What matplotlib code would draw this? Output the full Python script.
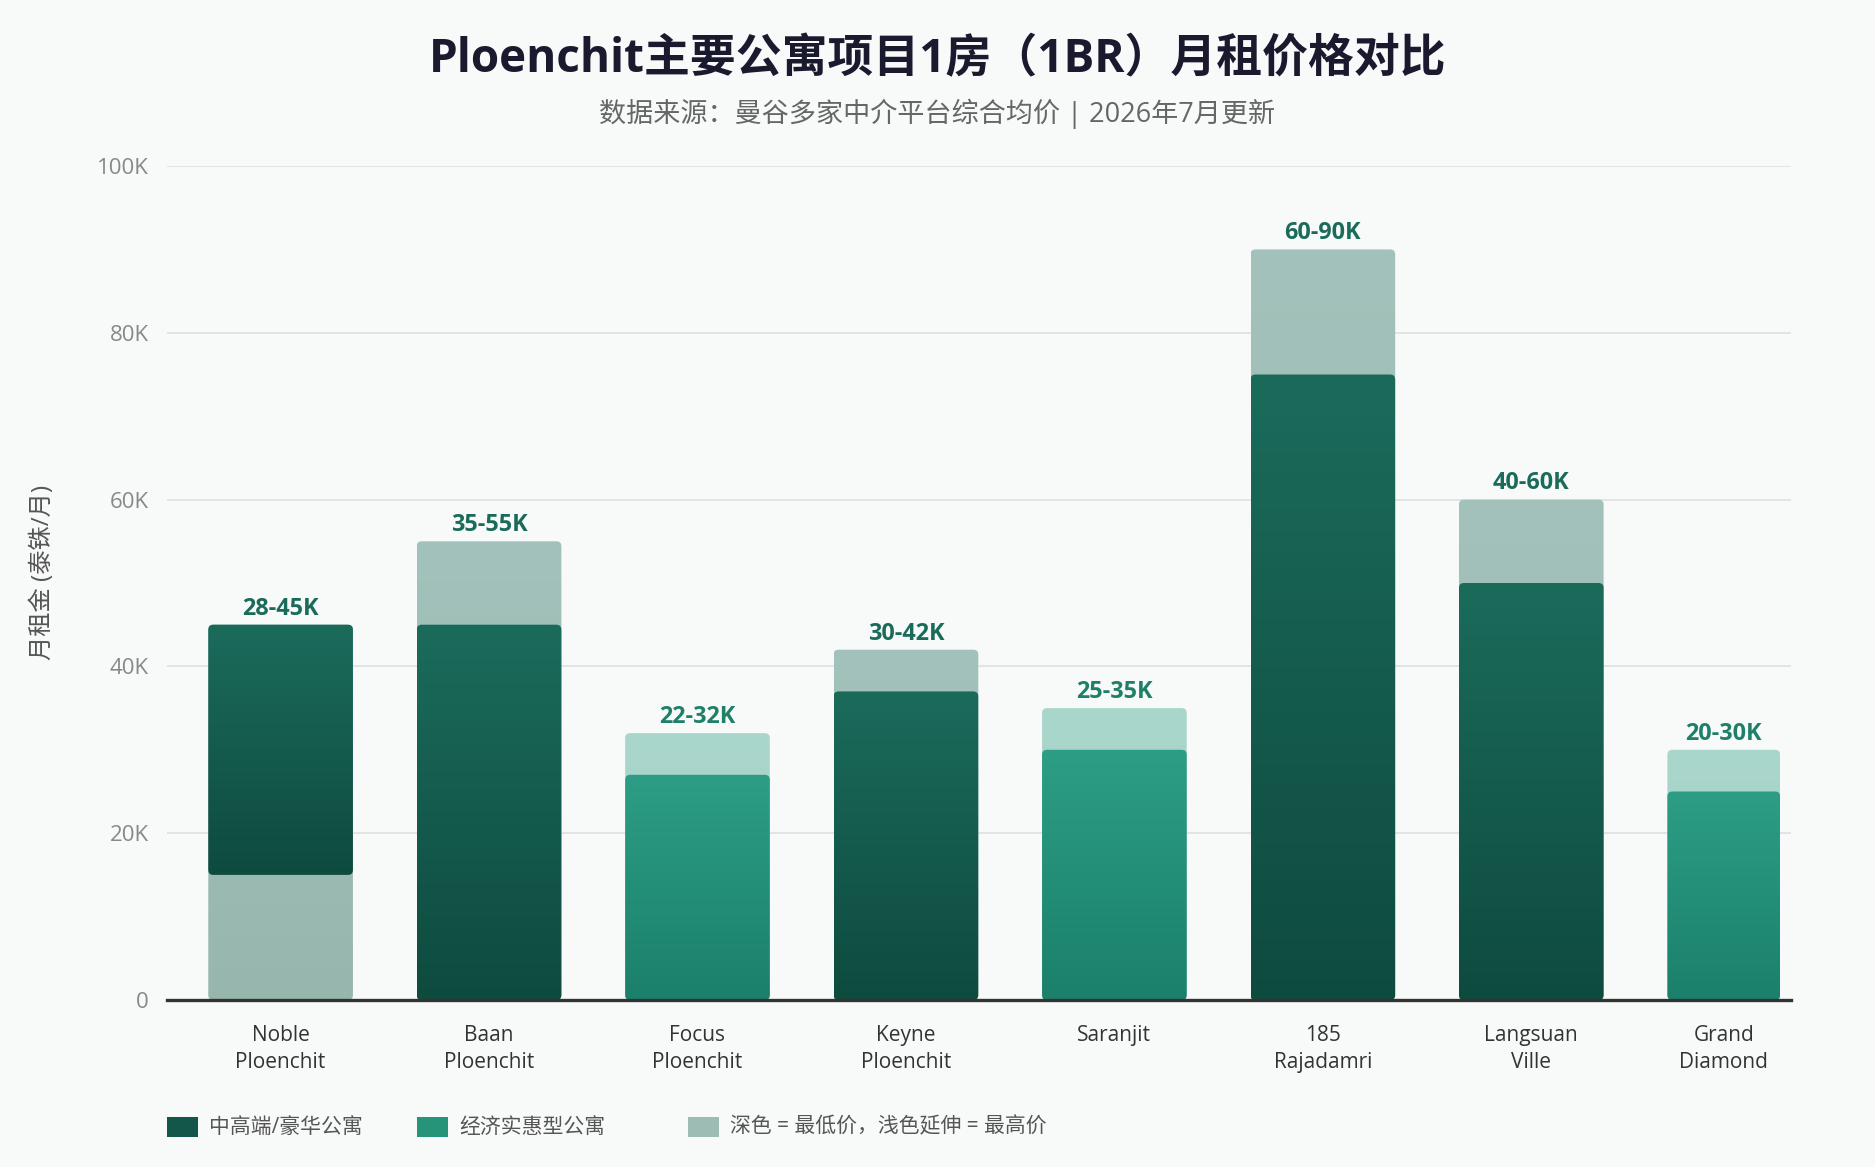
import numpy as np
import matplotlib
matplotlib.use("Agg")
import matplotlib.pyplot as plt
from matplotlib.patches import FancyBboxPatch, Rectangle
from matplotlib.colors import LinearSegmentedColormap

plt.rcParams['font.family'] = ['Open Sans', 'Noto Sans CJK SC', 'DejaVu Sans']

# data (thousand THB / month)
projects = ["Noble\nPloenchit", "Baan\nPloenchit", "Focus\nPloenchit", "Keyne\nPloenchit",
            "Saranjit", "185\nRajadamri", "Langsuan\nVille", "Grand\nDiamond"]
range_labels = ["28-45K", "35-55K", "22-32K", "30-42K", "25-35K", "60-90K", "40-60K", "20-30K"]
segment = ["premium", "premium", "economy", "premium", "economy", "premium", "premium", "economy"]
dark_low = [15, 0, 0, 0, 0, 0, 0, 0]
dark_high = [45, 45, 27, 37, 30, 75, 50, 25]
max_price = [45, 55, 32, 42, 35, 90, 60, 30]
yticks = [0, 20, 40, 60, 80, 100]
ytick_labels = ["0", "20K", "40K", "60K", "80K", "100K"]

BG = "#f8f9f9"
colors = {
    "premium": {"base": ("#1b6b5b", "#0e4b3f"), "ext": ("#a2c2bb", "#97b6ae"), "label": "#1a6b5a"},
    "economy": {"base": ("#2d9e85", "#1b806b"), "ext": ("#aad7cc", "#a2cec3"), "label": "#1e8068"},
}

W, H, DPI = 1875, 1167, 100
fig = plt.figure(figsize=(W / DPI, H / DPI), dpi=DPI, facecolor=BG)
ax_l, ax_r, ax_b, ax_t = 167, 1791, 1000, 166
ax = fig.add_axes([ax_l / W, 1 - ax_b / H, (ax_r - ax_l) / W, (ax_b - ax_t) / H])
ax.set_facecolor(BG)

xlim = (-0.545, 7.246)
ylim = (0, 100)
bar_w = 0.694
clip_right = 7.194

px_x = (ax_r - ax_l) / (xlim[1] - xlim[0])
px_y = (ax_b - ax_t) / (ylim[1] - ylim[0])
r_px = 5
rsize = r_px / px_x
masp = px_x / px_y


def grad_bar(x0, x1, y0, y1, c_top, c_bot, z):
    patch = FancyBboxPatch((x0, y0), x1 - x0, y1 - y0,
                           boxstyle=f"round,pad=0,rounding_size={rsize}",
                           mutation_aspect=masp, facecolor="none", edgecolor="none", zorder=z)
    ax.add_patch(patch)
    cmap = LinearSegmentedColormap.from_list("g", [c_bot, c_top])
    grad = np.linspace(1, 0, 256).reshape(-1, 1)
    im = ax.imshow(grad, cmap=cmap, extent=(x0, x1, y0, y1), aspect="auto",
                   origin="upper", zorder=z, interpolation="bilinear", vmin=0, vmax=1)
    im.set_clip_path(patch)


centers = []
for i in range(len(projects)):
    x0 = i - bar_w / 2
    x1 = min(i + bar_w / 2, clip_right)
    c = colors[segment[i]]
    grad_bar(x0, x1, 0, max_price[i], c["ext"][0], c["ext"][1], 2)
    grad_bar(x0, x1, dark_low[i], dark_high[i], c["base"][0], c["base"][1], 3)
    xc = (x0 + x1) / 2
    centers.append(xc)
    ax.annotate(range_labels[i], (xc, max_price[i]), xytext=(0, 3), textcoords="offset points",
                ha="center", va="bottom", fontsize=16.8, fontweight="bold", color=c["label"])

ax.set_xlim(*xlim)
ax.set_ylim(*ylim)
ax.set_yticks(yticks)
ax.set_yticklabels(ytick_labels)
ax.set_xticks(centers)
ax.set_xticklabels(projects, linespacing=1.35)
ax.tick_params(axis="y", length=0, pad=13, labelsize=16, labelcolor="#888888")
ax.tick_params(axis="x", length=0, pad=18, labelsize=15, labelcolor="#333333")
ax.grid(axis="y", color="#e2e4e4", linewidth=1.4, zorder=0)
ax.set_axisbelow(True)
for s in ["top", "right", "left"]:
    ax.spines[s].set_visible(False)
ax.spines["bottom"].set_color("#333333")
ax.spines["bottom"].set_linewidth(2.4)
ax.spines["bottom"].set_zorder(5)

fig.text(43 / W, 1 - 572 / H, "月租金 (泰铢/月)", rotation=90, ha="center", va="center",
         fontsize=17.5, color="#555555")

fig.text(0.5, 1 - 60 / H, "Ploenchit主要公寓项目1房（1BR）月租价格对比", ha="center", va="center",
         fontsize=33, fontweight="bold", color="#1a1a2e")
fig.text(0.5, 1 - 114 / H, "数据来源：曼谷多家中介平台综合均价 | 2026年7月更新", ha="center", va="center",
         fontsize=19.5, color="#666666")

# legend
legend_items = [("中高端/豪华公寓", "#12574a"), ("经济实惠型公寓", "#259479"),
                ("深色 = 最低价，浅色延伸 = 最高价", "#9dbcb4")]
legend_x = [167, 417, 688]
ly = 1127
for (txt, col), lx in zip(legend_items, legend_x):
    fig.add_artist(Rectangle((lx / W, 1 - (ly + 10) / H), 31 / W, 20 / H,
                             transform=fig.transFigure, facecolor=col, edgecolor="none"))
    fig.text((lx + 42) / W, 1 - ly / H, txt, ha="left", va="center", fontsize=15, color="#555555")

fig.savefig("out.png", dpi=DPI, facecolor=BG)
